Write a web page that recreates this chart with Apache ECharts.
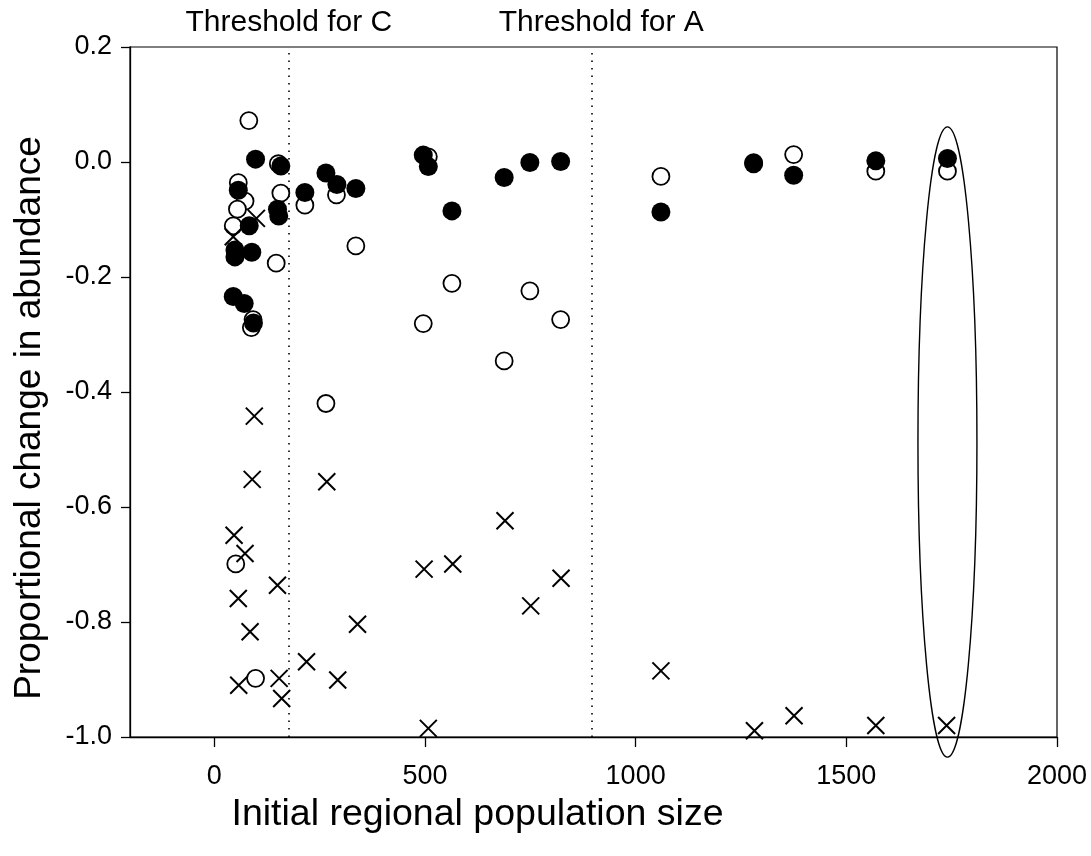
<!DOCTYPE html>
<html>
<head>
<meta charset="utf-8">
<script src="https://cdn.jsdelivr.net/npm/echarts@6/dist/echarts.min.js"></script>
<style>
html,body{margin:0;padding:0;background:#fff;}
#chart{width:1091px;height:856px;}
</style>
</head>
<body>
<div id="chart"></div>
<script>
// ---- data ----
var xTicks = [0, 500, 1000, 1500, 2000];
var yRange = [-1.0, 0.2];
var xRange = [-200, 2000];

var openCircles = [
  [82, 0.072], [152, -0.003], [57, -0.036], [73, -0.068], [55, -0.082], [45, -0.111],
  [158, -0.054], [147, -0.176], [92, -0.274], [88, -0.288], [215, -0.075], [290, -0.057],
  [336, -0.146], [265, -0.420], [51, -0.699], [98, -0.898], [508, 0.009], [564, -0.211],
  [496, -0.281], [749, -0.224], [822, -0.274], [688, -0.346], [1060, -0.025], [1280, -0.001],
  [1375, 0.013], [1570, -0.016], [1740, -0.016]
];

var filledCircles = [
  [98, 0.005], [158, -0.007], [57, -0.049], [83, -0.111], [150, -0.082], [153, -0.094],
  [49, -0.153], [49, -0.165], [89, -0.157], [45, -0.234], [71, -0.246], [93, -0.280],
  [215, -0.053], [265, -0.019], [291, -0.039], [336, -0.046], [496, 0.012], [508, -0.008],
  [688, -0.027], [749, -0.001], [822, 0.001], [564, -0.085], [1060, -0.087], [1280, -0.003],
  [1375, -0.023], [1570, 0.002], [1740, 0.006]
];

var crosses = [
  [95, -0.442], [90, -0.552], [267, -0.556], [47, -0.649], [73, -0.681], [150, -0.736],
  [57, -0.759], [85, -0.817], [340, -0.804], [219, -0.869], [154, -0.898], [58, -0.910],
  [293, -0.901], [160, -0.933], [690, -0.624], [498, -0.708], [566, -0.699], [823, -0.724],
  [751, -0.772], [1060, -0.885], [508, -0.985], [1282, -0.989], [1376, -0.963], [1570, -0.980],
  [1738, -0.980], [100, -0.098], [45, -0.130]
];

var thresholds = [
  {name: 'Threshold for C', value: 177},
  {name: 'Threshold for A', value: 897}
];

// highlighted site: [centreX, halfWidth, top, bottom]
var highlightEllipse = [[1740, 70, 0.061, -1.035]];

var FONT = 'Liberation Sans, Arial, Helvetica, sans-serif';

var chart = echarts.init(document.getElementById('chart'), null, {renderer: 'canvas'});

var option = {
  animation: false,
  backgroundColor: '#fff',
  grid: {
    left: 130, right: 34, top: 47, bottom: 119,
    show: true, borderColor: '#000', borderWidth: 1.2, backgroundColor: 'transparent'
  },
  xAxis: {
    type: 'value',
    min: xRange[0], max: xRange[1],
    name: 'Initial regional population size',
    nameLocation: 'middle',
    nameGap: 59,
    nameTextStyle: {fontFamily: FONT, fontSize: 37.5, color: '#000', padding: [0, 232, 0, 0]},
    axisLine: {show: true, onZero: false, lineStyle: {color: '#000', width: 1.3}},
    axisTick: {show: true, inside: false, length: 10, customValues: xTicks, lineStyle: {color: '#000', width: 1.3}},
    axisLabel: {
      show: true, margin: 26, customValues: xTicks, fontFamily: FONT, fontSize: 27, color: '#000',
      formatter: function (v) { return String(v); }
    },
    splitLine: {show: false}
  },
  yAxis: {
    type: 'value',
    min: yRange[0], max: yRange[1], interval: 0.2,
    name: 'Proportional change in abundance',
    nameLocation: 'middle',
    nameGap: 82,
    nameRotate: 90,
    nameTextStyle: {fontFamily: FONT, fontSize: 37, color: '#000', padding: [0, 52, 0, 0]},
    axisLine: {show: true, onZero: false, lineStyle: {color: '#000', width: 1.3}},
    axisTick: {show: true, inside: false, length: 9, lineStyle: {color: '#000', width: 1.3}},
    axisLabel: {
      show: true, margin: 18, fontFamily: FONT, fontSize: 27, color: '#000',
      formatter: function (v) { return (Math.round(v * 10) / 10).toFixed(1); }
    },
    splitLine: {show: false}
  },
  series: [
    {
      name: 'thresholds',
      type: 'scatter',
      data: [],
      silent: true,
      markLine: {
        silent: true,
        symbol: ['none', 'none'],
        animation: false,
        lineStyle: {color: '#000', width: 1.6, type: [1.5, 6]},
        label: {
          show: true,
          position: 'end',
          distance: 9,
          fontFamily: FONT,
          fontSize: 30,
          color: '#000',
          formatter: function (p) { return p.name; }
        },
        emphasis: {disabled: true},
        data: thresholds.map(function (t, i) {
          return {
            name: t.name,
            xAxis: t.value,
            label: i === 1 ? {padding: [0, 0, 0, 18]} : {}
          };
        })
      }
    },
    {
      name: 'open',
      type: 'scatter',
      z: 2,
      symbol: 'circle',
      symbolSize: 17,
      itemStyle: {color: '#fff', borderColor: '#000', borderWidth: 1.8, opacity: 1},
      emphasis: {disabled: true},
      data: openCircles
    },
    {
      name: 'cross',
      type: 'scatter',
      z: 3,
      symbol: 'path://M0,0L10,10M10,0L0,10',
      symbolSize: 17,
      itemStyle: {color: 'rgba(0,0,0,0)', borderColor: '#000', borderWidth: 2, opacity: 1},
      emphasis: {disabled: true},
      data: crosses
    },
    {
      name: 'filled',
      type: 'scatter',
      z: 4,
      symbol: 'circle',
      symbolSize: 19,
      itemStyle: {color: '#000', borderWidth: 0, opacity: 1},
      emphasis: {disabled: true},
      data: filledCircles
    },
    {
      name: 'highlight',
      type: 'custom',
      z: 5,
      silent: true,
      clip: false,
      data: highlightEllipse,
      renderItem: function (params, api) {
        var cx = api.value(0), hw = api.value(1), top = api.value(2), bot = api.value(3);
        var p1 = api.coord([cx - hw, top]);
        var p2 = api.coord([cx + hw, bot]);
        return {
          type: 'ellipse',
          shape: {
            cx: (p1[0] + p2[0]) / 2,
            cy: (p1[1] + p2[1]) / 2,
            rx: Math.abs(p2[0] - p1[0]) / 2,
            ry: Math.abs(p2[1] - p1[1]) / 2
          },
          style: {fill: 'none', stroke: '#000', lineWidth: 1.4}
        };
      }
    }
  ]
};

chart.setOption(option);
</script>
</body>
</html>
